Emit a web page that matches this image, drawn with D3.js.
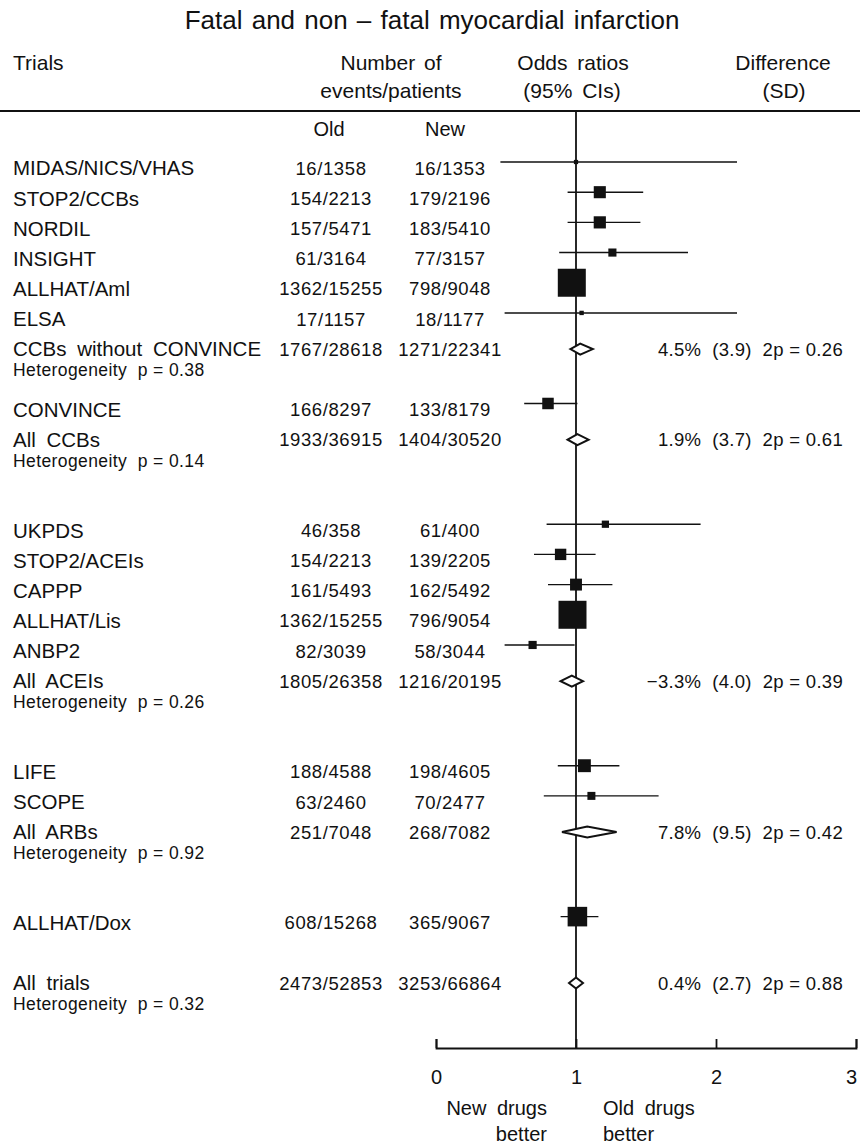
<!DOCTYPE html>
<html>
<head>
<meta charset="utf-8">
<script src="https://cdn.jsdelivr.net/npm/d3@7"></script>
<style>
  html, body { margin: 0; padding: 0; background: #fff; }
  svg { display: block; }
  text { font-family: "Liberation Sans", Arial, Helvetica, sans-serif; fill: #111; white-space: pre; }
</style>
</head>
<body>
<svg id="chart" width="860" height="1144"></svg>
<script>
// ---------------- data ----------------
const title = "Fatal and non – fatal myocardial infarction";
const labels = ["MIDAS/NICS/VHAS","STOP2/CCBs","NORDIL","INSIGHT","ALLHAT/Aml","ELSA","CCBs without CONVINCE","",
  "CONVINCE","All CCBs","","","UKPDS","STOP2/ACEIs","CAPPP","ALLHAT/Lis","ANBP2","All ACEIs","","",
  "LIFE","SCOPE","All ARBs","","","ALLHAT/Dox","","All trials"];
const kinds = ["t","t","t","t","t","t","s","",
  "t","s","","","t","t","t","t","t","s","","",
  "t","t","s","","","t","","s"];
const oldCounts = ["16/1358","154/2213","157/5471","61/3164","1362/15255","17/1157","1767/28618","",
  "166/8297","1933/36915","","","46/358","154/2213","161/5493","1362/15255","82/3039","1805/26358","","",
  "188/4588","63/2460","251/7048","","","608/15268","","2473/52853"];
const newCounts = ["16/1353","179/2196","183/5410","77/3157","798/9048","18/1177","1271/22341","",
  "133/8179","1404/30520","","","61/400","139/2205","162/5492","796/9054","58/3044","1216/20195","","",
  "198/4605","70/2477","268/7082","","","365/9067","","3253/66864"];
const orEst = [1.00,1.17,1.17,1.26,0.97,1.04,1.03,null,
  0.80,1.01,null,null,1.21,0.89,1.00,0.975,0.69,0.97,null,null,
  1.06,1.11,1.08,null,null,1.01,null,1.00];
const orLo = [0.46,0.94,0.94,0.88,0.89,0.49,0.96,null,
  0.63,0.94,null,null,0.79,0.70,0.80,0.89,0.49,0.89,null,null,
  0.87,0.77,0.90,null,null,0.89,null,0.95];
const orHi = [2.15,1.48,1.46,1.80,1.06,2.15,1.12,null,
  1.01,1.09,null,null,1.89,1.14,1.26,1.06,0.99,1.05,null,null,
  1.31,1.59,1.29,null,null,1.16,null,1.05];
const hetText = {6:"Heterogeneity  p = 0.38", 9:"Heterogeneity  p = 0.14", 17:"Heterogeneity  p = 0.26",
  22:"Heterogeneity  p = 0.92", 27:"Heterogeneity  p = 0.32"};
const diffText = {6:"4.5%  (3.9)  2p = 0.26", 9:"1.9%  (3.7)  2p = 0.61", 17:"−3.3%  (4.0)  2p = 0.39",
  22:"7.8%  (9.5)  2p = 0.42", 27:"0.4%  (2.7)  2p = 0.88"};
const xTicks = [0, 1, 2, 3];

// ---------------- layout ----------------
const svg = d3.select("#chart");
const x = d3.scaleLinear().domain([0, 3]).range([436, 856]);
const y = d3.scaleLinear().domain([0, labels.length - 1]).range([168, 983]);
const axisY = 1048, headerLineY = 111;
const events = i => d3.sum([oldCounts[i], newCounts[i]], s => +s.split("/")[0]);
const boxSize = d3.scalePow().exponent(0.45).domain([0, 2160]).range([0, 28]);

// text helper: center text vertically on cap height
function txt(g, s, xx, yc, fs, anchor, extra) {
  const t = g.append("text").attr("x", xx).attr("y", yc + fs * 0.358)
    .attr("font-size", fs).attr("text-anchor", anchor || "start").text(s);
  if (extra) extra(t);
  return t;
}

// title
txt(svg, title, 432, 20, 26, "middle", t => t.attr("word-spacing", 2));

// headers
txt(svg, "Trials", 13, 62, 21, "start");
txt(svg, "Number of", 391, 62, 21, "middle", t => t.attr("word-spacing", 3));
txt(svg, "events/patients", 391, 90, 21, "middle");
txt(svg, "Odds ratios", 573, 62, 21, "middle", t => t.attr("word-spacing", 4));
txt(svg, "(95% CIs)", 572, 90, 21, "middle", t => t.attr("word-spacing", 4));
txt(svg, "Difference", 783, 62, 21, "middle");
txt(svg, "(SD)", 784, 90, 21, "middle");

svg.append("line").attr("x1", 0).attr("x2", 860).attr("y1", headerLineY).attr("y2", headerLineY)
  .attr("stroke", "#111").attr("stroke-width", 2);

txt(svg, "Old", 329, 129, 20, "middle");
txt(svg, "New", 445, 129, 20, "middle");

// rows
const idx = d3.range(labels.length).filter(i => kinds[i] !== "");
const rows = svg.append("g");
idx.forEach(i => {
  const yc = y(i);
  txt(rows, labels[i], 13, yc, 20.5, "start", t => t.attr("word-spacing", 5));
  txt(rows, oldCounts[i], 331, yc, 18.5, "middle", t => t.attr("letter-spacing", 0.6));
  txt(rows, newCounts[i], 450, yc, 18.5, "middle", t => t.attr("letter-spacing", 0.6));
  if (hetText[i]) txt(rows, hetText[i], 13, yc + 21, 17.5, "start", t => t.attr("letter-spacing", 0.4));
  if (diffText[i]) txt(rows, diffText[i], 843, yc, 18.5, "end", t => t.attr("letter-spacing", 0.3));
});

// reference line at OR = 1
svg.append("line").attr("x1", x(1)).attr("x2", x(1)).attr("y1", headerLineY).attr("y2", axisY)
  .attr("stroke", "#111").attr("stroke-width", 1.8);

// trial marks
const marks = svg.append("g");
idx.filter(i => kinds[i] === "t").forEach(i => {
  const ym = y(i) - 6;
  marks.append("line").attr("x1", x(orLo[i])).attr("x2", x(orHi[i])).attr("y1", ym).attr("y2", ym)
    .attr("stroke", "#111").attr("stroke-width", 1.4);
  const s = Math.max(boxSize(events(i)), 3.5);
  marks.append("rect").attr("x", x(orEst[i]) - s / 2).attr("y", ym - s / 2)
    .attr("width", s).attr("height", s).attr("fill", "#111");
});

// summary diamonds
idx.filter(i => kinds[i] === "s").forEach(i => {
  const yc = y(i), h = 5.5;
  const pts = [[x(orLo[i]), yc], [x(orEst[i]), yc - h], [x(orHi[i]), yc], [x(orEst[i]), yc + h]];
  marks.append("path").attr("d", d3.line()(pts) + "Z")
    .attr("fill", "#fff").attr("stroke", "#111").attr("stroke-width", 2).attr("stroke-linejoin", "miter");
});

// axis
const axis = d3.axisBottom(x).tickValues(xTicks).tickFormat(d3.format("d"))
  .tickSizeInner(-9).tickSizeOuter(-9).tickPadding(22);
const ag = svg.append("g").attr("transform", `translate(0,${axisY})`).call(axis);
ag.select(".domain").attr("stroke", "#111").attr("stroke-width", 1.8);
ag.selectAll(".tick line").attr("stroke", "#111").attr("stroke-width", 1.8);
ag.selectAll(".tick text").attr("font-size", 20).attr("fill", "#111")
  .attr("font-family", "'Liberation Sans', Arial, sans-serif")
  .attr("dx", d => d === xTicks[xTicks.length - 1] ? -5 : 0);

// direction labels
txt(svg, "New drugs", 547, 1108, 20, "end", t => t.attr("word-spacing", 5));
txt(svg, "better", 547, 1134, 20, "end");
txt(svg, "Old drugs", 603, 1108, 20, "start", t => t.attr("word-spacing", 5));
txt(svg, "better", 603, 1134, 20, "start");
</script>
</body>
</html>
